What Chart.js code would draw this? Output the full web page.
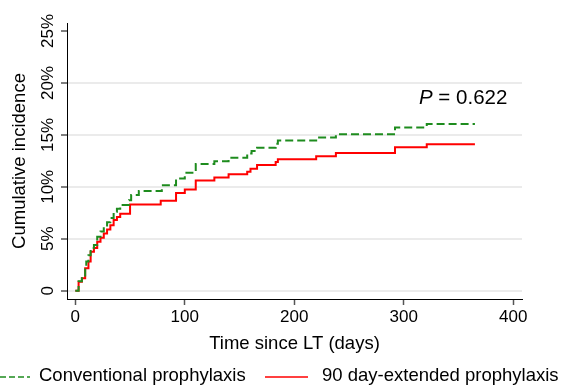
<!DOCTYPE html>
<html>
<head>
<meta charset="utf-8">
<script src="https://cdn.jsdelivr.net/npm/chart.js@4.4.1/dist/chart.umd.min.js"></script>
<style>
  html, body { margin: 0; padding: 0; background: #fff; }
</style>
</head>
<body>
<canvas id="cif" width="561" height="385"></canvas>
<script>
// step times (days since LT) and cumulative incidence (%)
const convDays = [0, 3, 6, 9, 10, 12, 14, 17, 20, 23, 26, 29, 32, 35, 38, 41, 49, 51, 58, 79, 92, 100, 110, 127, 140, 157, 161, 166, 183, 185, 220, 238, 292, 321, 365];
const convInc = [0, 0.9, 1.3, 2.2, 2.8, 3.4, 4.1, 4.4, 5.2, 5.7, 6.15, 6.6, 7.0, 7.6, 7.9, 8.25, 8.7, 9.2, 9.6, 10.15, 10.8, 11.35, 12.2, 12.45, 12.8, 13.2, 13.45, 13.75, 14.15, 14.45, 14.75, 15.05, 15.7, 16.05, 16.05];

const extDays = [0, 3, 6, 9, 12, 14, 17, 20, 23, 26, 29, 32, 35, 38, 41, 50, 78, 92, 100, 110, 127, 140, 157, 160, 166, 183, 185, 220, 238, 292, 321, 365];
const extInc = [0, 0.85, 1.2, 2.15, 2.8, 3.75, 4.1, 4.7, 5.1, 5.5, 5.9, 6.3, 6.8, 7.1, 7.4, 8.3, 8.65, 9.4, 9.75, 10.6, 10.9, 11.2, 11.45, 11.75, 12.1, 12.4, 12.65, 12.95, 13.25, 13.8, 14.1, 14.1];

const xTicks = [0, 100, 200, 300, 400];
const yTicks = [0, 5, 10, 15, 20, 25];
const seriesNames = ['Conventional prophylaxis', '90 day-extended prophylaxis'];
const pValue = '0.622';

const FONT = "'Liberation Sans', Arial, sans-serif";
const GREEN = '#1e8c1e';
const RED = '#ff0000';

function toPoints(days, inc) {
    return days.map((d, i) => ({ x: d, y: inc[i] }));
}

// texts chart.js can't place the way stata does: rotated y labels, titles, p value, legend
const extras = {
    id: 'extras',
    afterDraw(chart) {
        const ctx = chart.ctx;
        const ys = chart.scales.y;
        const area = chart.chartArea;
        ctx.save();
        ctx.fillStyle = '#000';

        ctx.font = '17px ' + FONT;
        ctx.textAlign = 'center';
        ctx.textBaseline = 'middle';
        yTicks.forEach(v => {
            ctx.save();
            ctx.translate(48, ys.getPixelForValue(v));
            ctx.rotate(-Math.PI / 2);
            ctx.fillText(v === 0 ? '0' : v + '%', 0, 0);
            ctx.restore();
        });

        ctx.font = '18.5px ' + FONT;
        ctx.save();
        ctx.translate(20, (area.top + area.bottom) / 2);
        ctx.rotate(-Math.PI / 2);
        ctx.fillText('Cumulative incidence', 0, 0);
        ctx.restore();

        ctx.fillText('Time since LT (days)', (area.left + area.right) / 2, 344);

        // p value, italic P
        ctx.textAlign = 'left';
        ctx.font = 'italic 20.5px ' + FONT;
        const px = 419;
        ctx.fillText('P', px, 98);
        const pw = ctx.measureText('P').width;
        ctx.font = '20.5px ' + FONT;
        ctx.fillText(' = ' + pValue, px + pw, 98);

        // legend
        ctx.font = '18.5px ' + FONT;
        ctx.lineWidth = 1.5;
        ctx.strokeStyle = GREEN;
        ctx.setLineDash([6, 3]);
        ctx.beginPath();
        ctx.moveTo(0, 377);
        ctx.lineTo(30, 377);
        ctx.stroke();
        ctx.setLineDash([]);
        ctx.fillText(seriesNames[0], 39, 376);

        ctx.strokeStyle = RED;
        ctx.beginPath();
        ctx.moveTo(265, 377);
        ctx.lineTo(308, 377);
        ctx.stroke();
        ctx.fillText(seriesNames[1], 322, 376);
        ctx.restore();
    }
};

new Chart(document.getElementById('cif'), {
    type: 'line',
    data: {
        datasets: [
            {
                label: seriesNames[0],
                data: toPoints(convDays, convInc),
                borderColor: GREEN,
                borderWidth: 2,
                borderDash: [8, 4],
                stepped: 'before',
                pointRadius: 0,
                fill: false
            },
            {
                label: seriesNames[1],
                data: toPoints(extDays, extInc),
                borderColor: RED,
                borderWidth: 2,
                stepped: 'before',
                pointRadius: 0,
                fill: false
            }
        ]
    },
    options: {
        responsive: false,
        animation: false,
        devicePixelRatio: 1,
        layout: { padding: { left: 0, right: 39, top: 23, bottom: 0 } },
        plugins: {
            legend: { display: false },
            tooltip: { enabled: false }
        },
        scales: {
            x: {
                type: 'linear',
                min: -7.6,
                max: 408,
                afterBuildTicks: s => { s.ticks = xTicks.map(v => ({ value: v })); },
                afterFit: s => { s.height = 86; },
                border: { color: '#000', width: 1 },
                grid: {
                    drawOnChartArea: false,
                    tickLength: 6,
                    tickColor: '#555',
                    tickWidth: 1.5
                },
                ticks: {
                    color: '#000',
                    font: { family: FONT, size: 17 },
                    padding: 2,
                    maxRotation: 0,
                    callback: v => String(v)
                }
            },
            y: {
                min: -0.8,
                max: 25.77,
                afterBuildTicks: s => { s.ticks = yTicks.map(v => ({ value: v })); },
                afterFit: s => { s.width = 67; },
                border: { color: '#000', width: 1 },
                grid: {
                    color: c => (c.tick && c.tick.value === 25 ? 'rgba(0,0,0,0)' : '#ebebeb'),
                    lineWidth: 2,
                    tickLength: 6,
                    tickColor: '#555',
                    tickWidth: 1.5
                },
                ticks: { display: false }
            }
        }
    },
    plugins: [extras]
});
</script>
</body>
</html>
